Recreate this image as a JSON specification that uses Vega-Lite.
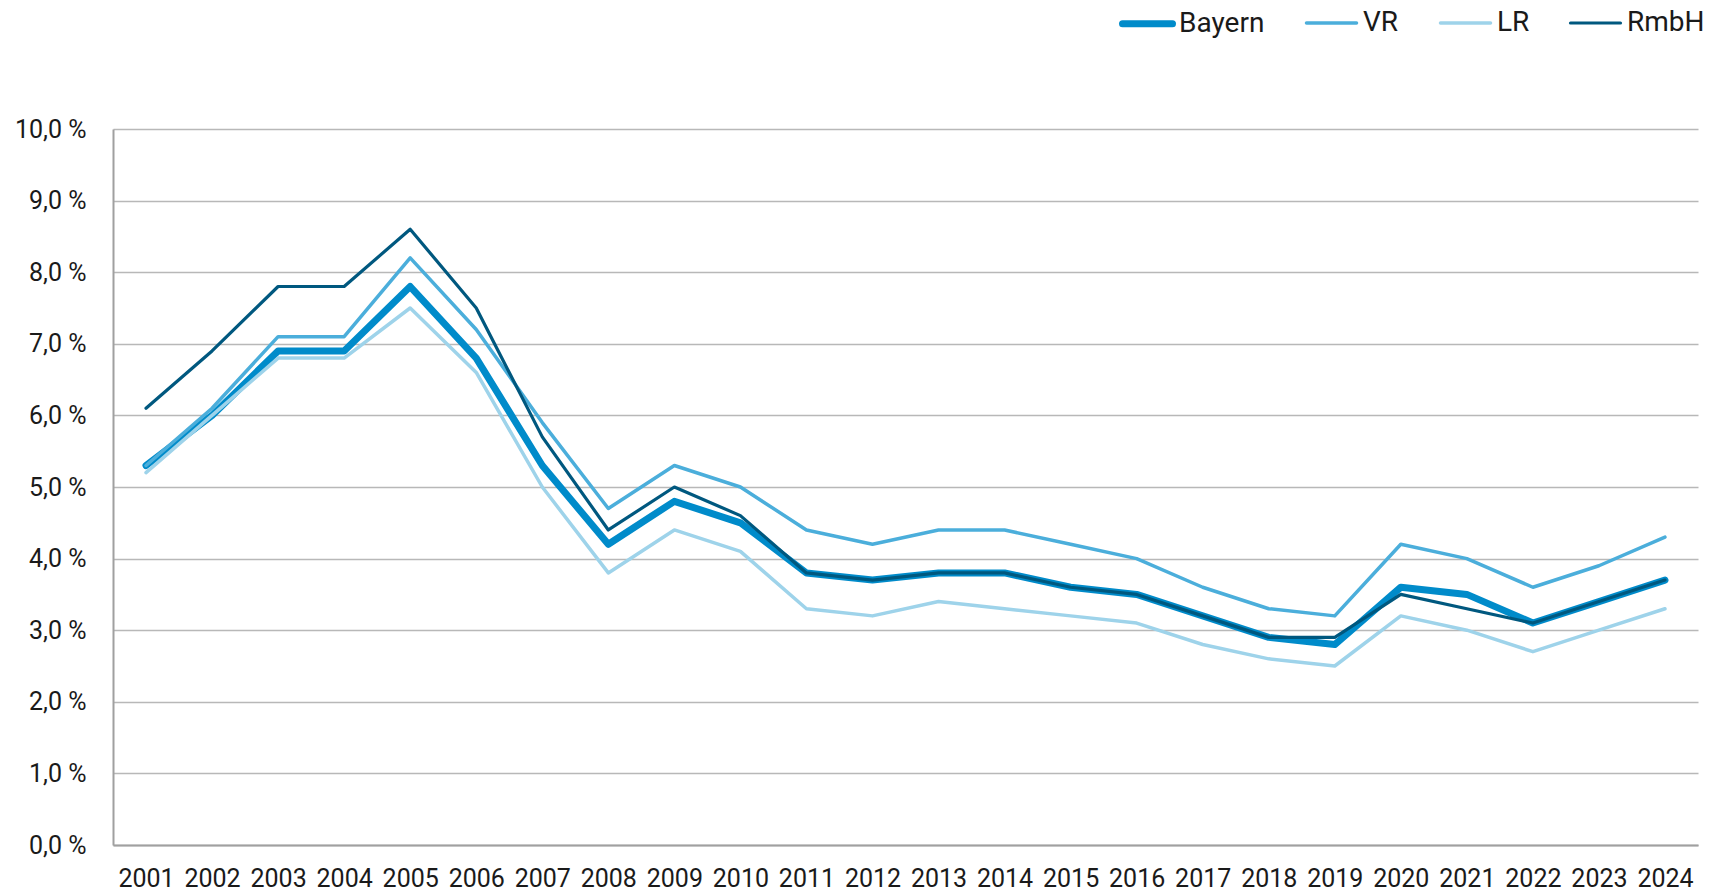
{
  "$schema": "https://vega.github.io/schema/vega-lite/v6.json",
  "width": 1585,
  "height": 716,
  "autosize": {"type": "none"},
  "padding": {"left": 113, "top": 129, "right": 18, "bottom": 49},
  "background": "white",
  "config": {
    "view": {"stroke": null},
    "font": "Roboto",
    "axis": {"labelFont": "Roboto", "labelFontSize": 25, "labelColor": "#1a1a1a"}
  },
  "datasets": {
    "d": [
      {"year": "2001", "series": "Bayern", "value": 5.3},
      {"year": "2002", "series": "Bayern", "value": 6.0},
      {"year": "2003", "series": "Bayern", "value": 6.9},
      {"year": "2004", "series": "Bayern", "value": 6.9},
      {"year": "2005", "series": "Bayern", "value": 7.8},
      {"year": "2006", "series": "Bayern", "value": 6.8},
      {"year": "2007", "series": "Bayern", "value": 5.3},
      {"year": "2008", "series": "Bayern", "value": 4.2},
      {"year": "2009", "series": "Bayern", "value": 4.8},
      {"year": "2010", "series": "Bayern", "value": 4.5},
      {"year": "2011", "series": "Bayern", "value": 3.8},
      {"year": "2012", "series": "Bayern", "value": 3.7},
      {"year": "2013", "series": "Bayern", "value": 3.8},
      {"year": "2014", "series": "Bayern", "value": 3.8},
      {"year": "2015", "series": "Bayern", "value": 3.6},
      {"year": "2016", "series": "Bayern", "value": 3.5},
      {"year": "2017", "series": "Bayern", "value": 3.2},
      {"year": "2018", "series": "Bayern", "value": 2.9},
      {"year": "2019", "series": "Bayern", "value": 2.8},
      {"year": "2020", "series": "Bayern", "value": 3.6},
      {"year": "2021", "series": "Bayern", "value": 3.5},
      {"year": "2022", "series": "Bayern", "value": 3.1},
      {"year": "2023", "series": "Bayern", "value": 3.4},
      {"year": "2024", "series": "Bayern", "value": 3.7},

      {"year": "2001", "series": "VR", "value": 5.3},
      {"year": "2002", "series": "VR", "value": 6.1},
      {"year": "2003", "series": "VR", "value": 7.1},
      {"year": "2004", "series": "VR", "value": 7.1},
      {"year": "2005", "series": "VR", "value": 8.2},
      {"year": "2006", "series": "VR", "value": 7.2},
      {"year": "2007", "series": "VR", "value": 5.9},
      {"year": "2008", "series": "VR", "value": 4.7},
      {"year": "2009", "series": "VR", "value": 5.3},
      {"year": "2010", "series": "VR", "value": 5.0},
      {"year": "2011", "series": "VR", "value": 4.4},
      {"year": "2012", "series": "VR", "value": 4.2},
      {"year": "2013", "series": "VR", "value": 4.4},
      {"year": "2014", "series": "VR", "value": 4.4},
      {"year": "2015", "series": "VR", "value": 4.2},
      {"year": "2016", "series": "VR", "value": 4.0},
      {"year": "2017", "series": "VR", "value": 3.6},
      {"year": "2018", "series": "VR", "value": 3.3},
      {"year": "2019", "series": "VR", "value": 3.2},
      {"year": "2020", "series": "VR", "value": 4.2},
      {"year": "2021", "series": "VR", "value": 4.0},
      {"year": "2022", "series": "VR", "value": 3.6},
      {"year": "2023", "series": "VR", "value": 3.9},
      {"year": "2024", "series": "VR", "value": 4.3},

      {"year": "2001", "series": "LR", "value": 5.2},
      {"year": "2002", "series": "LR", "value": 6.0},
      {"year": "2003", "series": "LR", "value": 6.8},
      {"year": "2004", "series": "LR", "value": 6.8},
      {"year": "2005", "series": "LR", "value": 7.5},
      {"year": "2006", "series": "LR", "value": 6.6},
      {"year": "2007", "series": "LR", "value": 5.0},
      {"year": "2008", "series": "LR", "value": 3.8},
      {"year": "2009", "series": "LR", "value": 4.4},
      {"year": "2010", "series": "LR", "value": 4.1},
      {"year": "2011", "series": "LR", "value": 3.3},
      {"year": "2012", "series": "LR", "value": 3.2},
      {"year": "2013", "series": "LR", "value": 3.4},
      {"year": "2014", "series": "LR", "value": 3.3},
      {"year": "2015", "series": "LR", "value": 3.2},
      {"year": "2016", "series": "LR", "value": 3.1},
      {"year": "2017", "series": "LR", "value": 2.8},
      {"year": "2018", "series": "LR", "value": 2.6},
      {"year": "2019", "series": "LR", "value": 2.5},
      {"year": "2020", "series": "LR", "value": 3.2},
      {"year": "2021", "series": "LR", "value": 3.0},
      {"year": "2022", "series": "LR", "value": 2.7},
      {"year": "2023", "series": "LR", "value": 3.0},
      {"year": "2024", "series": "LR", "value": 3.3},

      {"year": "2001", "series": "RmbH", "value": 6.1},
      {"year": "2002", "series": "RmbH", "value": 6.9},
      {"year": "2003", "series": "RmbH", "value": 7.8},
      {"year": "2004", "series": "RmbH", "value": 7.8},
      {"year": "2005", "series": "RmbH", "value": 8.6},
      {"year": "2006", "series": "RmbH", "value": 7.5},
      {"year": "2007", "series": "RmbH", "value": 5.7},
      {"year": "2008", "series": "RmbH", "value": 4.4},
      {"year": "2009", "series": "RmbH", "value": 5.0},
      {"year": "2010", "series": "RmbH", "value": 4.6},
      {"year": "2011", "series": "RmbH", "value": 3.8},
      {"year": "2012", "series": "RmbH", "value": 3.7},
      {"year": "2013", "series": "RmbH", "value": 3.8},
      {"year": "2014", "series": "RmbH", "value": 3.8},
      {"year": "2015", "series": "RmbH", "value": 3.6},
      {"year": "2016", "series": "RmbH", "value": 3.5},
      {"year": "2017", "series": "RmbH", "value": 3.2},
      {"year": "2018", "series": "RmbH", "value": 2.9},
      {"year": "2019", "series": "RmbH", "value": 2.9},
      {"year": "2020", "series": "RmbH", "value": 3.5},
      {"year": "2021", "series": "RmbH", "value": 3.3},
      {"year": "2022", "series": "RmbH", "value": 3.1},
      {"year": "2023", "series": "RmbH", "value": 3.4},
      {"year": "2024", "series": "RmbH", "value": 3.7}
    ]
  },
  "data": {"name": "d"},
  "mark": {"type": "line", "strokeJoin": "round", "strokeCap": "round"},
  "encoding": {
    "x": {
      "field": "year",
      "type": "ordinal",
      "scale": {"type": "point", "padding": 0.5},
      "axis": {
        "title": null,
        "labelAngle": 0,
        "ticks": false,
        "grid": false,
        "domainColor": "#a0a0a0",
        "domainWidth": 2,
        "labelPadding": 21
      }
    },
    "y": {
      "field": "value",
      "type": "quantitative",
      "scale": {"domain": [0, 10], "nice": false},
      "axis": {
        "title": null,
        "values": [0, 1, 2, 3, 4, 5, 6, 7, 8, 9, 10],
        "labelExpr": "replace(format(datum.value, '.1f'), '.', ',') + ' %'",
        "ticks": false,
        "grid": true,
        "gridColor": "#b8b8b8",
        "gridWidth": 1.5,
        "domainColor": "#a0a0a0",
        "domainWidth": 2,
        "labelPadding": 27
      }
    },
    "color": {
      "field": "series",
      "type": "nominal",
      "sort": ["Bayern", "VR", "LR", "RmbH"],
      "scale": {
        "domain": ["Bayern", "VR", "LR", "RmbH"],
        "range": ["#008bca", "#4baedb", "#9ed3ea", "#00587f"]
      },
      "legend": {
        "title": null,
        "orient": "none",
        "direction": "horizontal",
        "legendX": 1006,
        "legendY": -134,
        "columns": 4,
        "symbolType": "stroke",
        "symbolSize": 2500,
        "symbolStrokeWidth": 3.5,
        "labelFont": "Roboto",
        "labelFontSize": 28,
        "labelColor": "#1a1a1a",
        "labelOffset": 3,
        "columnPadding": 34,
        "encode": {
          "symbols": {
            "update": {
              "strokeWidth": {"signal": "datum.value === 'Bayern' ? 7 : 3.5"},
              "strokeCap": {"value": "round"}
            }
          }
        }
      }
    },
    "strokeWidth": {
      "field": "series",
      "type": "nominal",
      "scale": {
        "type": "ordinal",
        "domain": ["Bayern", "VR", "LR", "RmbH"],
        "range": [7, 3.5, 3.5, 3.2]
      },
      "legend": null
    }
  }
}
